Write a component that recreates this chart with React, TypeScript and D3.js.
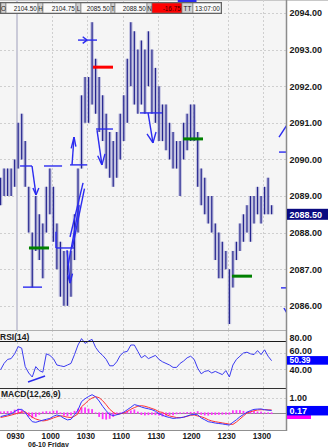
import React from "react";
import * as d3 from "d3";

// ---------- data ----------
const highs = [2089.5, 2089.75, 2089.75, 2089.75, 2090.0, 2091.0, 2091.25, 2090.5, 2089.25, 2088.0,
  2089.0, 2088.5, 2088.25, 2089.25, 2089.75, 2089.25, 2088.25, 2087.75, 2087.5, 2087.5,
  2087.5, 2088.5, 2089.75, 2091.75, 2092.25, 2092.25, 2093.75, 2092.75, 2092.25, 2091.75,
  2091.25, 2090.75, 2090.5, 2090.75, 2091.25, 2091.75, 2092.75, 2093.75, 2093.5, 2093.0,
  2093.25, 2093.0, 2093.5, 2093.0, 2092.5, 2092.0, 2091.5, 2091.5, 2091.0, 2090.75,
  2090.5, 2090.5, 2091.0, 2091.25, 2091.5, 2091.5, 2090.75, 2089.75, 2089.5, 2089.0,
  2089.0, 2088.25, 2088.0, 2087.75, 2087.5, 2087.0, 2087.5, 2087.75, 2088.25, 2088.5,
  2088.75, 2089.0, 2089.0, 2089.25, 2089.0, 2089.25, 2089.5, 2088.75];
const lows = [2088.75, 2089.0, 2089.0, 2089.0, 2089.25, 2089.75, 2090.0, 2089.25, 2088.0, 2086.5,
  2087.5, 2087.25, 2086.75, 2088.0, 2088.5, 2087.75, 2087.0, 2086.25, 2086.0, 2086.0,
  2086.25, 2087.25, 2088.0, 2089.75, 2091.0, 2091.0, 2091.5, 2091.25, 2090.75, 2090.5,
  2089.75, 2089.5, 2089.25, 2089.5, 2090.0, 2090.5, 2091.0, 2092.0, 2091.5, 2091.25,
  2091.5, 2091.25, 2092.0, 2091.25, 2091.0, 2090.5, 2090.5, 2090.25, 2090.0, 2089.75,
  2089.75, 2089.0, 2090.0, 2090.25, 2090.5, 2090.5, 2089.25, 2088.75, 2088.5, 2088.25,
  2088.0, 2087.25, 2086.75, 2086.75, 2087.0, 2085.5, 2086.5, 2087.25, 2087.5, 2087.75,
  2088.0, 2087.75, 2088.25, 2088.5, 2088.25, 2088.5, 2088.5, 2088.5];
const rsiValues = [39, 47, 52, 53, 59, 68, 66, 43, 35, 30, 43, 38, 36, 59, 57, 53, 45, 44, 43, 45,
  47, 58, 70, 78, 72, 75, 77, 67, 61, 57, 52, 44, 44, 49, 57, 61, 62, 70, 70, 62,
  54, 57, 53, 55, 57, 52, 49, 47, 45, 42, 42, 47, 50, 54, 56, 52, 41, 34, 37, 38,
  35, 37, 35, 33, 38, 30, 45, 52, 56, 60, 61, 59, 58, 63, 58, 64, 56, 50.39];
const macdValues = [-0.24, -0.18, -0.12, -0.06, 0.1, 0.24, 0.24, 0.05, -0.3, -0.58,
  -0.62, -0.55, -0.48, -0.42, -0.36, -0.22, -0.13, -0.2, -0.35, -0.46,
  -0.42, -0.12, 0.2, 0.76, 0.95, 1.1, 1.22, 1.08, 0.8, 0.45,
  0.15, -0.1, -0.17, -0.12, -0.05, 0.05, 0.22, 0.38, 0.56, 0.5,
  0.4, 0.33, 0.28, 0.22, 0.12, -0.05, -0.15, -0.24, -0.3, -0.36,
  -0.34, -0.32, -0.28, -0.2, -0.12, -0.1, -0.12, -0.33, -0.45, -0.58,
  -0.62, -0.67, -0.7, -0.73, -0.77, -0.8, -0.62, -0.45, -0.25, -0.1,
  0.05, 0.16, 0.24, 0.26, 0.27, 0.22, 0.19, 0.17];
const signalValues = [-0.3, -0.25, -0.2, -0.14, -0.08, 0.0, 0.06, 0.08, -0.1, -0.28,
  -0.4, -0.47, -0.53, -0.5, -0.42, -0.33, -0.25, -0.18, -0.22, -0.28,
  -0.3, -0.22, -0.05, 0.42, 0.62, 0.85, 1.0, 1.09, 1.02, 0.82,
  0.55, 0.25, 0.05, -0.09, -0.05, 0.0, 0.1, 0.25, 0.36, 0.45,
  0.49, 0.45, 0.38, 0.3, 0.22, 0.08, 0.04, -0.1, -0.2, -0.25,
  -0.3, -0.31, -0.28, -0.22, -0.15, -0.13, -0.2, -0.25, -0.33, -0.45,
  -0.53, -0.58, -0.62, -0.66, -0.7, -0.74, -0.76, -0.6, -0.4, -0.2,
  0.0, 0.08, 0.15, 0.2, 0.22, 0.22, 0.21, 0.2];

const timeTicks = [0, 30, 60, 90, 120, 150, 180, 210]; // minutes after 09:30
const timeLabels = ["0930", "1000", "1030", "1100", "1130", "1200", "1230", "1300"];
const priceTicks = [2086, 2087, 2088, 2089, 2090, 2091, 2092, 2093, 2094];
const rsiTicks = [80, 60, 40];
const macdTicks = [1];
const lastPrice = 2088.5;
const lastRsi = 50.39;
const lastMacd = 0.17;

const headerLabels = ["O", "H", "L", "T", "N", "TT"];
const headerValues = ["2104.50", "2104.75", "2085.50", "2088.50", "-16.75", "13:07:00"];

// annotation segments: [minute1, price1, minute2, price2]
const blueSegments = [
  [2.6, 2089.82, 12.8, 2089.82], [12.8, 2089.82, 16.2, 2089.03], [13.6, 2089.22, 16.2, 2089.03], [18.6, 2089.22, 16.2, 2089.03],
  [23, 2089.82, 38.4, 2089.82],
  [5.1, 2086.51, 21.3, 2086.51],
  [33.2, 2087.58, 48.6, 2087.58], [33.2, 2088.02, 33.2, 2087.58],
  [42.6, 2087.52, 45.2, 2086.62], [43.2, 2086.85, 45.2, 2086.62], [47.3, 2086.88, 45.2, 2086.62],
  [45.2, 2089.85, 59.7, 2089.85], [46.9, 2089.85, 48.6, 2090.61], [46.2, 2090.3, 48.6, 2090.61], [50.2, 2090.35, 48.6, 2090.61],
  [45.2, 2087.88, 56.3, 2089.36], [47.3, 2087.6, 57.5, 2089.2], [43.5, 2087.1, 53.0, 2088.75],
  [52, 2093.26, 68.2, 2093.26], [56, 2093.35, 59.7, 2093.26], [56, 2093.17, 59.7, 2093.26],
  [67.3, 2090.83, 81.8, 2090.83], [68.2, 2090.8, 72.4, 2089.85], [68.8, 2090.1, 72.4, 2089.85], [75, 2090.15, 72.4, 2089.85],
  [104.8, 2091.27, 123.6, 2091.27], [111.7, 2091.27, 115.9, 2090.45], [110.8, 2090.7, 115.9, 2090.45], [118.5, 2090.75, 115.9, 2090.45],
  [223.3, 2090.61, 230.1, 2090.94],
  [223.3, 2090.2, 230.1, 2090.2], [230.1, 2090.2, 230.1, 2090.58],
  [225, 2086.49, 230.1, 2086.49],
  [227.5, 2085.94, 230.1, 2085.8],
];
const redSegments = [[64.8, 2092.52, 81.8, 2092.52]];
const greenSegments = [
  [10.2, 2087.58, 27.3, 2087.58],
  [141.5, 2090.56, 158.5, 2090.56],
  [183.2, 2086.81, 200.3, 2086.81],
];
// [minute1, rsi1, minute2, rsi2]
const rsiSegments = [[9.4, 23.75, 23.9, 31.25]];

// ---------- layout ----------
const W = 328;
const H = 447;
const PR = 287; // plot right edge
const MAIN = [0, 330];
const RSI = [330, 388];
const MACD = [389, 430];

const barMinutes = highs.map((_, i) => -14 + 3 * i);

const x = d3.scaleLinear().domain([0, 210]).range([17, 263.4]);
const yP = d3.scaleLinear().domain([2086, 2094]).range([305.8, 13]);
const yR = d3.scaleLinear().domain([40, 60]).range([369, 353]);
const yM = d3.scaleLinear().domain([0, 1]).range([413, 398]);

const axisFont = "'Liberation Sans', Arial, sans-serif";

export default function App() {
  const rsiLine = d3.line<number>().x((_, i) => x(barMinutes[i])).y((d) => yR(d));
  const macdLine = d3.line<number>().x((_, i) => x(barMinutes[i])).y((d) => yM(d));

  const headerCells: { x: number; w: number }[] = [
    { x: 1, w: 5 }, { x: 6, w: 32 }, { x: 38, w: 5 }, { x: 43, w: 33 }, { x: 76, w: 5 }, { x: 81, w: 30 },
    { x: 111, w: 4 }, { x: 115, w: 32 }, { x: 147, w: 5 }, { x: 152, w: 30 }, { x: 182, w: 11 }, { x: 193, w: 28 },
  ];

  const seg = (s: number[], yS: (v: number) => number) => ({
    x1: x(s[0]), y1: yS(s[1]), x2: x(s[2]), y2: yS(s[3]),
  });

  const rsiLabelY = yR(lastRsi) - 0.4;

  return (
    <svg width={W} height={H} style={{ position: "absolute", left: 0, top: 0, background: "#ffffff" }}
      fontFamily={axisFont}>
      <defs>
        <clipPath id="cMain"><rect x={0} y={MAIN[0]} width={PR} height={MAIN[1] - MAIN[0]} /></clipPath>
        <clipPath id="cRsi"><rect x={0} y={RSI[0]} width={PR} height={RSI[1] - RSI[0]} /></clipPath>
        <clipPath id="cMacd"><rect x={0} y={MACD[0]} width={PR} height={MACD[1] - MACD[0]} /></clipPath>
        <clipPath id="cRsiAx"><rect x={PR} y={RSI[0]} width={W - PR} height={RSI[1] - RSI[0]} /></clipPath>
      </defs>

      {/* panel backgrounds */}
      <rect x={0} y={MAIN[0]} width={PR} height={MAIN[1] - MAIN[0]} fill="#f5f5f5" />
      <rect x={0} y={RSI[0]} width={PR} height={RSI[1] - RSI[0]} fill="#f5f5f5" />
      <rect x={0} y={MACD[0]} width={PR} height={MACD[1] - MACD[0]} fill="#f5f5f5" />
      <line x1={0} x2={W} y1={0.5} y2={0.5} stroke="#c8c8c8" />

      {/* grids */}
      <g stroke="#cfcfcf" strokeWidth={1} strokeDasharray="2,2">
        {priceTicks.map((p) => (
          <line key={"pg" + p} x1={0} x2={PR} y1={Math.round(yP(p)) + 0.5} y2={Math.round(yP(p)) + 0.5} />
        ))}
        {[60, 40].map((r) => (
          <line key={"rg" + r} x1={0} x2={PR} y1={Math.round(yR(r)) + 0.5} y2={Math.round(yR(r)) + 0.5} />
        ))}
        <line x1={0} x2={PR} y1={Math.round(yM(1)) + 0.5} y2={Math.round(yM(1)) + 0.5} />
        {timeTicks.map((t) => (
          <g key={"tg" + t}>
            <line x1={Math.round(x(t)) + 0.5} x2={Math.round(x(t)) + 0.5} y1={MAIN[0]} y2={MAIN[1]} />
            <line x1={Math.round(x(t)) + 0.5} x2={Math.round(x(t)) + 0.5} y1={RSI[0]} y2={RSI[1]} />
            <line x1={Math.round(x(t)) + 0.5} x2={Math.round(x(t)) + 0.5} y1={MACD[0]} y2={MACD[1]} />
          </g>
        ))}
      </g>
      {/* session open line */}
      <line x1={x(0)} x2={x(0)} y1={MAIN[0]} y2={MAIN[1]} stroke="#cacad8" strokeWidth={2} />

      {/* price bars */}
      <g clipPath="url(#cMain)">
        {highs.map((h, i) => (
          <rect key={"lb" + i} x={x(barMinutes[i]) - 1.8} width={3.6} y={yP(h)} height={yP(lows[i]) - yP(h)}
            fill="#a4a4d2" opacity={0.6} />
        ))}
        {highs.map((h, i) => (
          <line key={"db" + i} x1={x(barMinutes[i])} x2={x(barMinutes[i])} y1={yP(h)} y2={yP(lows[i])}
            stroke="#24248e" strokeWidth={1.2} />
        ))}
        {blueSegments.map((s, i) => (
          <line key={"bs" + i} {...seg(s, yP)} stroke="#2b2bf0" strokeWidth={1.4} />
        ))}
        {redSegments.map((s, i) => (
          <line key={"rs" + i} {...seg(s, yP)} stroke="#ff0000" strokeWidth={3} />
        ))}
        {greenSegments.map((s, i) => (
          <line key={"gs" + i} {...seg(s, yP)} stroke="#008000" strokeWidth={3} />
        ))}
      </g>
      {/* top marker */}
      <rect x={x(137)} y={0} width={x(153) - x(137)} height={2.5} fill="#2b2bf0" />

      {/* header info box */}
      <g fontSize={6.4} fontFamily={axisFont}>
        <rect x={0.5} y={2.5} width={221} height={11} fill="#ffffff" stroke="#606060" />
        {headerCells.map((c, i) => {
          const isLabel = i % 2 === 0;
          const idx = Math.floor(i / 2);
          const isN = idx === 4 && !isLabel;
          return (
            <g key={"hc" + i}>
              <rect x={c.x} y={3} width={c.w} height={10} fill={isN ? "#ff0000" : isLabel ? "#d4d4d4" : "#fafafa"}
                stroke="#707070" strokeWidth={0.6} />
              <text x={isLabel ? c.x + c.w / 2 : c.x + c.w - 1.2} y={10.5}
                textAnchor={isLabel ? "middle" : "end"} fill={isN ? "#400000" : "#202020"}>
                {isLabel ? headerLabels[idx] : headerValues[idx]}
              </text>
            </g>
          );
        })}
      </g>

      {/* RSI */}
      <g clipPath="url(#cRsi)">
        <path d={rsiLine(rsiValues) || ""} fill="none" stroke="#3a3af0" strokeWidth={1} />
        {rsiSegments.map((s, i) => (
          <line key={"rsg" + i} x1={x(s[0])} y1={yR(s[1])} x2={x(s[2])} y2={yR(s[3])} stroke="#2b2bf0" strokeWidth={1.5} />
        ))}
      </g>
      <line x1={0} x2={PR} y1={341.5} y2={341.5} stroke="#1a1a1a" strokeWidth={1} />
      <text x={0} y={339.5} fontSize={8.5} fontWeight="bold" fill="#202020">RSI(14)</text>

      {/* MACD */}
      <g clipPath="url(#cMacd)">
        <line x1={0} x2={PR} y1={Math.round(yM(0)) + 0.5} y2={Math.round(yM(0)) + 0.5} stroke="#8a8a8a" />
        {macdValues.map((m, i) => {
          const d = m - signalValues[i];
          return (
            <rect key={"hb" + i} x={x(barMinutes[i]) - 0.9} width={1.8}
              y={Math.min(yM(0), yM(d)) - 0.6} height={Math.abs(yM(d) - yM(0)) + 1.2} fill="#ff33ff" />
          );
        })}
        <path d={macdLine(signalValues) || ""} fill="none" stroke="#ff3333" strokeWidth={1} />
        <path d={macdLine(macdValues) || ""} fill="none" stroke="#3333ff" strokeWidth={1} />
      </g>
      <text x={1} y={397} fontSize={8.5} fontWeight="bold" fill="#202020">MACD(12,26,9)</text>

      {/* panel borders */}
      <line x1={0} x2={PR} y1={330.5} y2={330.5} stroke="#b0b0b0" />
      <line x1={0} x2={PR} y1={388.5} y2={388.5} stroke="#303030" />
      <line x1={0} x2={PR} y1={430.5} y2={430.5} stroke="#909090" />
      <line x1={PR - 0.5} x2={PR - 0.5} y1={0} y2={431} stroke="#8c8c8c" strokeWidth={1.5} />

      {/* right axis labels */}
      <g fontSize={9} fontWeight="bold" fill="#1a1a1a">
        {priceTicks.map((p) => (
          <text key={"pl" + p} x={289.5} y={yP(p) + 3.3}>{p.toFixed(2)}</text>
        ))}
        <g clipPath="url(#cRsiAx)">
          {rsiTicks.map((r) => (
            <text key={"rl" + r} x={289.5} y={yR(r) + (r === 60 ? 1.3 : 3.6)}>{r.toFixed(2)}</text>
          ))}
        </g>
        {macdTicks.map((m) => (
          <text key={"ml" + m} x={289.5} y={yM(m) + 3.3}>{m.toFixed(2)}</text>
        ))}
      </g>

      {/* current value labels */}
      <rect x={287} y={yP(lastPrice) - 5.5} width={41} height={11} fill="#0a0a80" />
      <text x={289.5} y={yP(lastPrice) + 3.3} fontSize={9} fontWeight="bold" fill="#ffffff">{lastPrice.toFixed(2)}</text>

      <rect x={287} y={rsiLabelY - 4.2} width={41} height={8.6} fill="#0000ff" />
      <text x={289.5} y={rsiLabelY + 3.1} fontSize={8.4} fontWeight="bold" fill="#ffffff">{lastRsi.toFixed(2)}</text>

      <rect x={287} y={yM(0) - 0.5} width={24} height={6.5} fill="#ff00ff" />
      <rect x={287} y={yM(lastMacd) - 4.5} width={41} height={9.5} fill="#0000ff" />
      <text x={289.5} y={yM(lastMacd) + 3.3} fontSize={9} fontWeight="bold" fill="#ffffff">{lastMacd.toFixed(2)}</text>

      {/* time axis */}
      <g fontSize={8.2} fontWeight="bold" fill="#1a1a1a">
        {timeTicks.map((t, i) => (
          <text key={"tl" + t} x={Math.max(x(t) - 1.5, 14)} y={438.5} textAnchor="middle">{timeLabels[i]}</text>
        ))}
        <text x={28} y={446.5} fontSize={7}>06-10 Friday</text>
      </g>
    </svg>
  );
}
